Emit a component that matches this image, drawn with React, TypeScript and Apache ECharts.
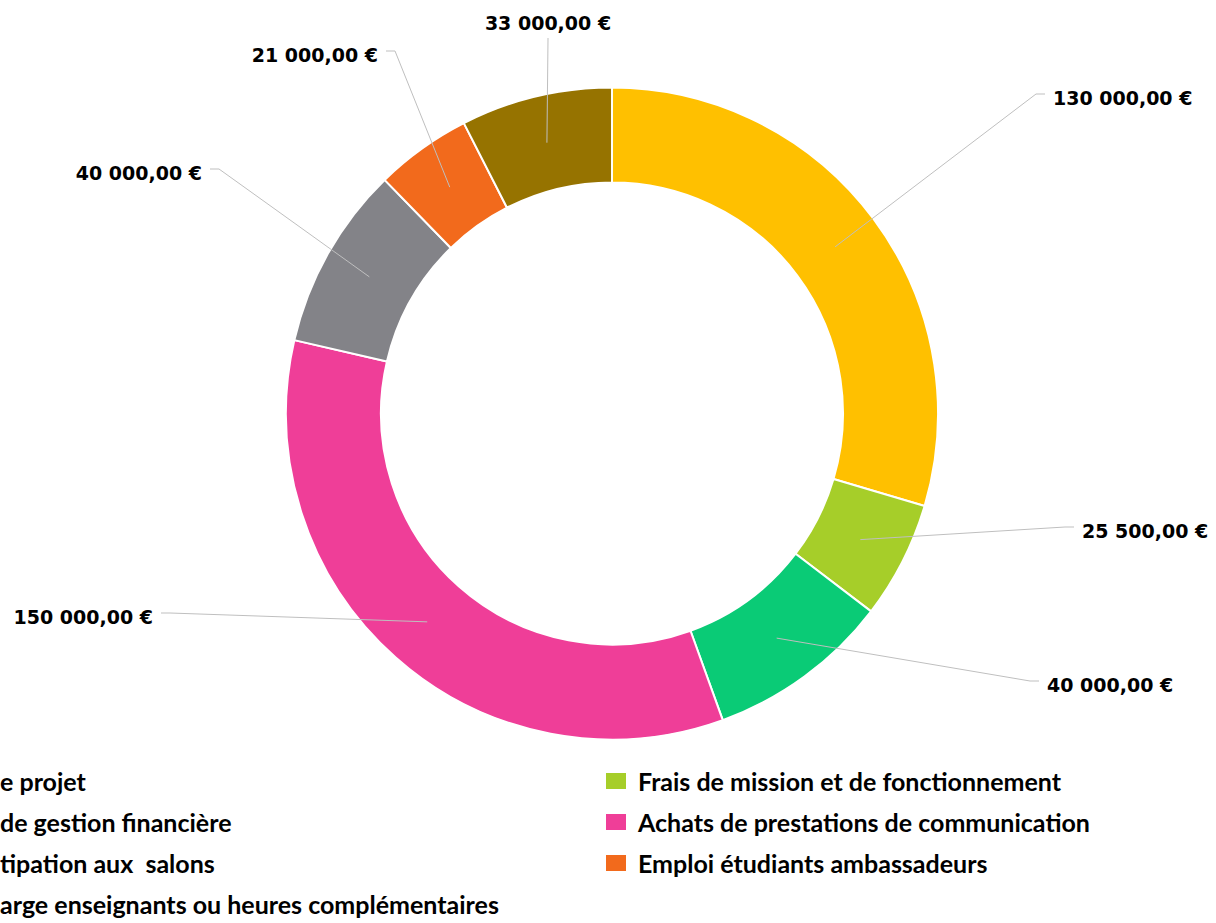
import React, { useEffect, useRef } from "react";
import * as echarts from "echarts";

// ---- data ----
const categories = [
  "e projet",
  "Frais de mission et de fonctionnement",
  "de gestion financière",
  "Achats de prestations de communication",
  "tipation aux  salons",
  "Emploi étudiants ambassadeurs",
  "arge enseignants ou heures complémentaires",
];
const amounts = [130000, 25500, 40000, 150000, 40000, 21000, 33000];
const colors = ["#FFC000", "#A6CE29", "#0ACB76", "#EF3E98", "#838388", "#F26A1C", "#967300"];

// ---- layout (label anchor positions, not data) ----
const labelAnchors: [number, number, string][] = [
  [1053, 98, "left"],
  [1082, 531, "left"],
  [1047, 685, "left"],
  [153, 617, "right"],
  [202, 173, "right"],
  [378, 55, "right"],
  [548, 23, "center"],
];

const CX = 612;
const CY = 413.5;
const R_IN = 231;
const R_OUT = 326;
const R_MID = (R_IN + R_OUT) / 2;

function fmtEuro(v: number): string {
  const parts = v.toFixed(2).split(".");
  const intPart = parts[0].replace(/\B(?=(\d{3})+(?!\d))/g, " ");
  return intPart + "," + parts[1] + " €";
}

export default function App() {
  const ref = useRef<HTMLDivElement>(null);
  useEffect(() => {
    if (!ref.current) return;
    const chart = echarts.init(ref.current, undefined, { renderer: "svg" });
    const legendText = {
      fontFamily: "Lato",
      fontWeight: "bold" as const,
      fontSize: 25,
      color: "#000",
      lineHeight: 30,
      padding: [0, 0, 0, 6],
    };
    const legendBase = {
      orient: "vertical",
      top: 766,
      height: 180,
      padding: 0,
      icon: "rect",
      itemWidth: 22,
      itemHeight: 18,
      itemGap: 11,
      selectedMode: false,
      textStyle: legendText,
    };
    chart.setOption({
      animation: false,
      backgroundColor: "#fff",
      legend: [
        {
          ...legendBase,
          left: -34,
          data: [categories[0], categories[2], categories[4], categories[6]],
        },
        {
          ...legendBase,
          left: 604,
          data: [categories[1], categories[3], categories[5]],
        },
      ],
      series: [
        {
          type: "pie",
          center: [CX, CY],
          radius: [R_IN, R_OUT],
          startAngle: 90,
          clockwise: true,
          silent: true,
          itemStyle: { borderColor: "#fff", borderWidth: 2 },
          label: { show: false },
          labelLine: { show: false },
          data: categories.map((name, i) => ({
            name,
            value: amounts[i],
            itemStyle: { color: colors[i] },
          })),
        },
        {
          type: "pie",
          z: 3,
          center: [CX, CY],
          radius: [R_MID - 1, R_MID],
          startAngle: 90,
          clockwise: true,
          avoidLabelOverlap: false,
          silent: true,
          itemStyle: { color: "rgba(0,0,0,0)", borderWidth: 0 },
          label: {
            show: true,
            position: "outside",
            formatter: (p: any) => fmtEuro(p.value),
            fontFamily: "DejaVu Sans",
            fontWeight: "bold",
            fontSize: 19,
            color: "#000",
          },
          labelLine: {
            show: true,
            length: 20,
            length2: 10,
            lineStyle: { color: "#BFBFBF", width: 1 },
          },
          labelLayout: (params: any) => {
            const [x, y, align] = labelAnchors[params.dataIndex];
            const res: any = { x, y, align, verticalAlign: "middle" };
            const pts = params.labelLinePoints;
            if (pts && pts[0]) {
              const p0 = [pts[0][0], pts[0][1]];
              let end: number[];
              let bend: number[];
              if (align === "left") {
                end = [x - 8, y - 4];
                bend = [x - 17, y - 4];
              } else if (align === "right") {
                end = [x + 8, y - 4];
                bend = [x + 17, y - 4];
              } else {
                end = [x, y + 15];
                bend = [x, y + 16];
              }
              res.labelLinePoints = [p0, bend, end];
            }
            return res;
          },
          data: categories.map((name, i) => ({
            name,
            value: amounts[i],
          })),
        },
      ],
    });
    return () => chart.dispose();
  }, []);
  return (
    <div
      ref={ref}
      style={{ position: "absolute", left: 0, top: 0, width: 1216, height: 923 }}
    />
  );
}
